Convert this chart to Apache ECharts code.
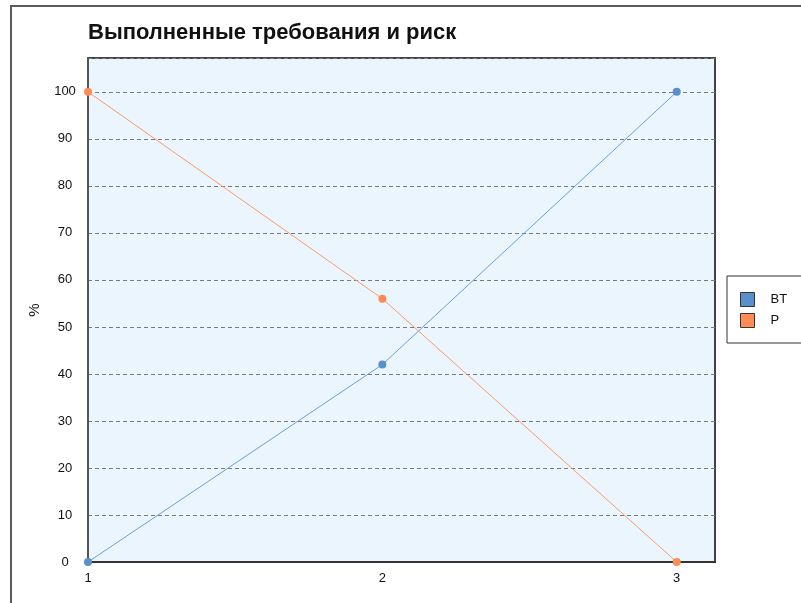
<!DOCTYPE html>
<html>
<head>
<meta charset="utf-8">
<script src="https://cdn.jsdelivr.net/npm/echarts@6/dist/echarts.min.js"></script>
<style>
  html, body { margin: 0; padding: 0; background: #fff; }
  #chart { width: 801px; height: 603px; }
</style>
</head>
<body>
<div id="chart"></div>
<script>
// Steps along the x axis and the two tracked percentages
const steps = [1, 2, 3];
const doneReqs = [0, 42, 100];   // BT
const risk = [100, 56, 0];       // P
const seriesNames = ['BT', 'P'];
const titleText = 'Выполненные требования и риск';

const FONT = '"Liberation Sans", Arial, sans-serif';
const chart = echarts.init(document.getElementById('chart'));

const pairs = (ys) => steps.map((x, i) => [x, ys[i]]);

chart.setOption({
  animation: false,
  backgroundColor: '#ffffff',
  title: {
    text: titleText,
    left: 83,
    top: 17,
    textStyle: { fontFamily: FONT, fontSize: 22, fontWeight: 'bold', color: '#111' }
  },
  graphic: [{
    type: 'rect',
    shape: { x: 11, y: 6, width: 820, height: 620 },
    style: { fill: 'none', stroke: '#5a5a5a', lineWidth: 2 },
    silent: true
  }],
  legend: {
    orient: 'vertical',
    left: 727,
    top: 276,
    itemWidth: 14,
    itemHeight: 14,
    itemGap: 6,
    padding: [16, 30, 15, 13],
    borderColor: '#333',
    borderWidth: 1,
    backgroundColor: '#fff',
    icon: 'rect',
    textStyle: { fontFamily: FONT, fontSize: 13, color: '#111', padding: [0, 0, 0, 11] },
    itemStyle: { borderColor: '#333', borderWidth: 1 },
    data: seriesNames
  },
  grid: {
    left: 88, top: 58, width: 627, height: 504,
    show: true,
    backgroundColor: '#ebf5fd',
    borderColor: '#444',
    borderWidth: 2
  },
  xAxis: {
    type: 'value',
    min: 1,
    max: 3.13,
    interval: 1,
    axisLine: { show: true, lineStyle: { color: '#333', width: 2 } },
    axisTick: { show: false },
    splitLine: { show: false },
    axisLabel: {
      fontFamily: FONT, fontSize: 13, color: '#111', margin: 10,
      formatter: (v) => (Number.isInteger(v) ? String(v) : '')
    }
  },
  yAxis: {
    type: 'value',
    min: 0,
    max: 107.2,
    interval: 10,
    name: '%',
    nameLocation: 'middle',
    nameGap: 46,
    nameTextStyle: { fontFamily: FONT, fontSize: 15, color: '#111' },
    axisLine: { show: true, lineStyle: { color: '#555', width: 2 } },
    axisTick: { show: false },
    axisLabel: {
      fontFamily: FONT, fontSize: 13, color: '#111', margin: 23, align: 'center',
      formatter: (v) => (v % 10 === 0 ? String(v) : '')
    },
    splitLine: {
      show: true,
      lineStyle: { color: '#7a7a7a', type: [4, 3], width: 1 }
    }
  },
  series: [
    {
      name: seriesNames[0],
      type: 'line',
      data: pairs(doneReqs),
      color: '#5b8fcc',
      symbol: 'circle',
      symbolSize: 8,
      lineStyle: { width: 1, color: '#6d9fd6' },
      itemStyle: { color: '#5b8fcc' },
      clip: false
    },
    {
      name: seriesNames[1],
      type: 'line',
      data: pairs(risk),
      color: '#ff8c55',
      symbol: 'circle',
      symbolSize: 8,
      lineStyle: { width: 1, color: '#ff9a66' },
      itemStyle: { color: '#ff8c55' },
      clip: false
    }
  ]
});
</script>
</body>
</html>
